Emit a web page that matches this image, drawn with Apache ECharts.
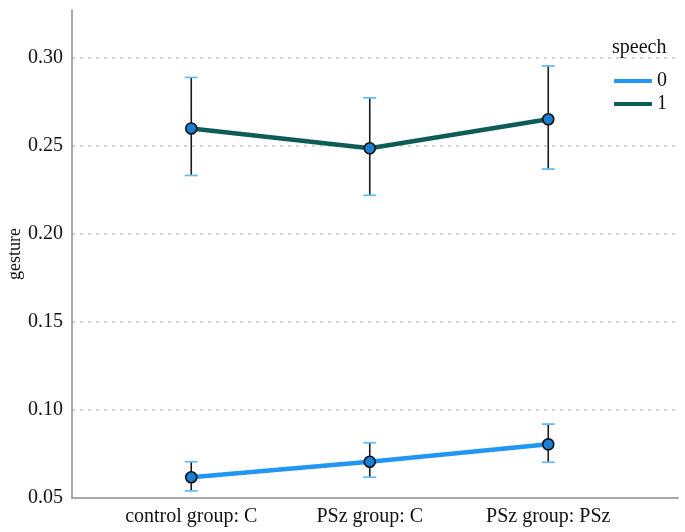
<!DOCTYPE html>
<html>
<head>
<meta charset="utf-8">
<script src="https://cdn.jsdelivr.net/npm/echarts@6/dist/echarts.min.js"></script>
<style>html,body{margin:0;padding:0;background:#fff;}#c{width:685px;height:532px;}</style>
</head>
<body>
<div id="c"></div>
<script>
const categories = ['control group: C', 'PSz group: C', 'PSz group: PSz'];
const seriesNames = ['0', '1'];
const speech0 = [0.0618, 0.0706, 0.0805];
const speech0Low = [0.0540, 0.0618, 0.0703];
const speech0High = [0.0706, 0.0814, 0.0920];
const speech1 = [0.2600, 0.2487, 0.2652];
const speech1Low = [0.2333, 0.2220, 0.2369];
const speech1High = [0.2890, 0.2774, 0.2955];
const yMin = 0.05, yMax = 0.3273, yStep = 0.05;

const FONT = "'Liberation Serif', 'Times New Roman', serif";
const colors = ['#2196f3', '#0e5c57'];

function errSeries(low, high) {
  return {
    type: 'custom', xAxisIndex: 1, yAxisIndex: 1, z: 1, silent: true,
    data: categories.map((c, i) => [i, low[i], high[i]]),
    renderItem: function (params, api) {
      const x = api.value(0);
      const lo = api.coord([x, api.value(1)]);
      const hi = api.coord([x, api.value(2)]);
      const w = 6.5;
      return {
        type: 'group',
        children: [
          { type: 'line', shape: { x1: lo[0], y1: lo[1], x2: hi[0], y2: hi[1] }, style: { stroke: '#1b1b1b', lineWidth: 1.6 } },
          { type: 'line', shape: { x1: hi[0] - w, y1: hi[1], x2: hi[0] + w, y2: hi[1] }, style: { stroke: '#69bdf2', lineWidth: 1.8 } },
          { type: 'line', shape: { x1: lo[0] - w, y1: lo[1], x2: lo[0] + w, y2: lo[1] }, style: { stroke: '#69bdf2', lineWidth: 1.8 } }
        ]
      };
    }
  };
}

function lineSeries(name, data, color) {
  return {
    name: name, type: 'line', xAxisIndex: 1, yAxisIndex: 1, z: 3,
    data: data, symbol: 'circle', symbolSize: 11,
    lineStyle: { color: color, width: 4.5 },
    itemStyle: { color: '#1a7fd4', borderColor: '#111', borderWidth: 1.6 },
    emphasis: { disabled: true }
  };
}

const chart = echarts.init(document.getElementById('c'), null, { renderer: 'canvas' });
chart.setOption({
  animation: false,
  backgroundColor: '#fff',
  title: {
    text: 'speech', left: 607, top: 33,
    textStyle: { fontFamily: FONT, fontSize: 20, fontWeight: 'normal', color: '#111' }
  },
  legend: {
    orient: 'vertical', left: 609, top: 66, itemGap: 3,
    itemWidth: 38, itemHeight: 4, icon: 'roundRect',
    textStyle: { fontFamily: FONT, fontSize: 20, color: '#111' },
    data: [
      { name: seriesNames[0], itemStyle: { color: colors[0], borderWidth: 0 } },
      { name: seriesNames[1], itemStyle: { color: colors[1], borderWidth: 0 } }
    ]
  },
  grid: [
    { left: 72, right: 7, top: 10, bottom: 34, containLabel: false, outerBoundsMode: 'none' },
    { left: 102, right: 47.5, top: 10, bottom: 34, containLabel: false, outerBoundsMode: 'none' }
  ],
  xAxis: [
    {
      type: 'value', gridIndex: 0, min: 0, max: 1,
      axisLine: { show: true, lineStyle: { color: '#8c8c8c', width: 1.5 } },
      axisTick: { show: false }, axisLabel: { show: false }, splitLine: { show: false }
    },
    {
      type: 'category', gridIndex: 1, data: categories, boundaryGap: true,
      axisLine: { show: false }, axisTick: { show: false },
      axisLabel: { fontFamily: FONT, fontSize: 20, color: '#111', margin: 9 }
    }
  ],
  yAxis: [
    {
      type: 'value', gridIndex: 0, min: yMin, max: yMax, interval: yStep,
      name: 'gesture', nameLocation: 'middle', nameGap: 48, nameMoveOverlap: false,
      nameTextStyle: { fontFamily: FONT, fontSize: 18, color: '#111' },
      axisLine: { show: true, lineStyle: { color: '#8c8c8c', width: 1.5 } },
      axisTick: { show: false },
      axisLabel: {
        fontFamily: FONT, fontSize: 20, color: '#111', margin: 9, showMaxLabel: false,
        formatter: v => (Math.abs(v / yStep - Math.round(v / yStep)) < 1e-6 ? v.toFixed(2) : '')
      },
      splitLine: {
        show: true,
        lineStyle: {
          color: ['transparent', '#c8c8c8', '#c8c8c8', '#c8c8c8', '#c8c8c8', '#c8c8c8', 'transparent'],
          type: [3, 5], width: 1.5
        }
      }
    },
    {
      type: 'value', gridIndex: 1, min: yMin, max: yMax, interval: yStep,
      show: false, splitLine: { show: false }
    }
  ],
  series: [
    errSeries(speech0Low, speech0High),
    errSeries(speech1Low, speech1High),
    lineSeries(seriesNames[0], speech0, colors[0]),
    lineSeries(seriesNames[1], speech1, colors[1])
  ]
});
</script>
</body>
</html>
